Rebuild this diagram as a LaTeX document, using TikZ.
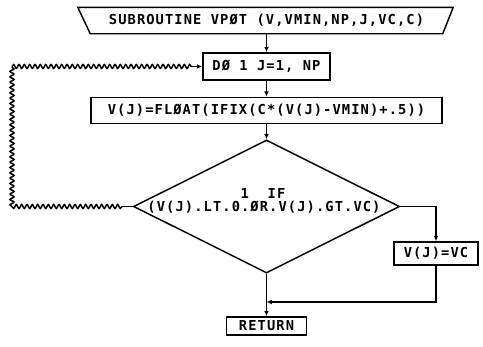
\documentclass[tikz,border=0pt]{standalone}
\usepackage{fontspec}
\setmonofont[LetterSpace=8]{DejaVu Sans Mono}
\usetikzlibrary{arrows.meta,shapes.geometric,decorations.pathmorphing,calc}
\begin{document}
\begin{tikzpicture}[x=0.75pt,y=-0.75pt,line width=1.1pt,
  every node/.style={font=\ttfamily\bfseries\fontsize{10.3}{12}\selectfont,inner sep=0pt},
  box/.style={draw,rectangle},
  arr/.style={-{Latex[length=4pt,width=3.5pt]}},
  wavy/.style={decorate,decoration={snake,amplitude=1.5pt,segment length=4pt,pre length=0pt,post length=0pt}}]
\useasboundingbox (0,0) rectangle (483,347);
% start block (trapezoid)
\node (sub) at (266.5,20.5) [minimum width=263.25pt,minimum height=18.75pt] {SUBROUTINE VPØT (V,VMIN,NP,J,VC,C)};
\draw ($(sub.north west)+(-12.5,0)$) -- ($(sub.north east)+(10.5,0)$) -- (sub.south east) -- (sub.south west) -- cycle;
% boxes
\node[box,minimum width=95.25pt,minimum height=20.25pt] (do) at (266.5,66.5) {DØ 1 J=1, NP};
\node[box,minimum width=263.25pt,minimum height=19.5pt] (asg) at (266.5,110.5) {V(J)=FLØAT(IFIX(C*(V(J)-VMIN)+.5))};
\node[draw,diamond,minimum width=199.5pt,minimum height=99.75pt] (d) at (266.5,206.5) {};
\node (dt1) at (263,193) {1\ \ IF};
\node (dt2) at (264,207) {(V(J).LT.0.ØR.V(J).GT.VC)};
\node[box,minimum width=63pt,minimum height=17.25pt] (vc) at (436,253.5) {V(J)=VC};
\node[box,minimum width=60pt,minimum height=13.5pt] (ret) at (266.5,326) {RETURN};
\coordinate (j) at (266.5,302);
\coordinate (wl0) at (122,206.5);
\coordinate (wl1) at (12,206.5);
\coordinate (wl2) at (12,66.5);
\coordinate (wa) at (192,66.5);
% connectors
\draw[arr] (sub.south) -- (do.north);
\draw[arr] (do.south) -- (asg.north);
\draw[arr] (asg.south) -- (d.north);
\draw[arr] (d.east) -| (vc.north);
\draw[arr] (vc.south) |- (j);
\draw[arr] (d.south) -- (ret.north);
\draw (d.west) -- (wl0);
\draw[wavy] (wl0) -- (wl1);
\draw[wavy] (wl1) -- (wl2);
\draw[wavy] (wl2) -- (wa);
\draw[arr] (wa) -- (do.west);
\end{tikzpicture}
\end{document}
